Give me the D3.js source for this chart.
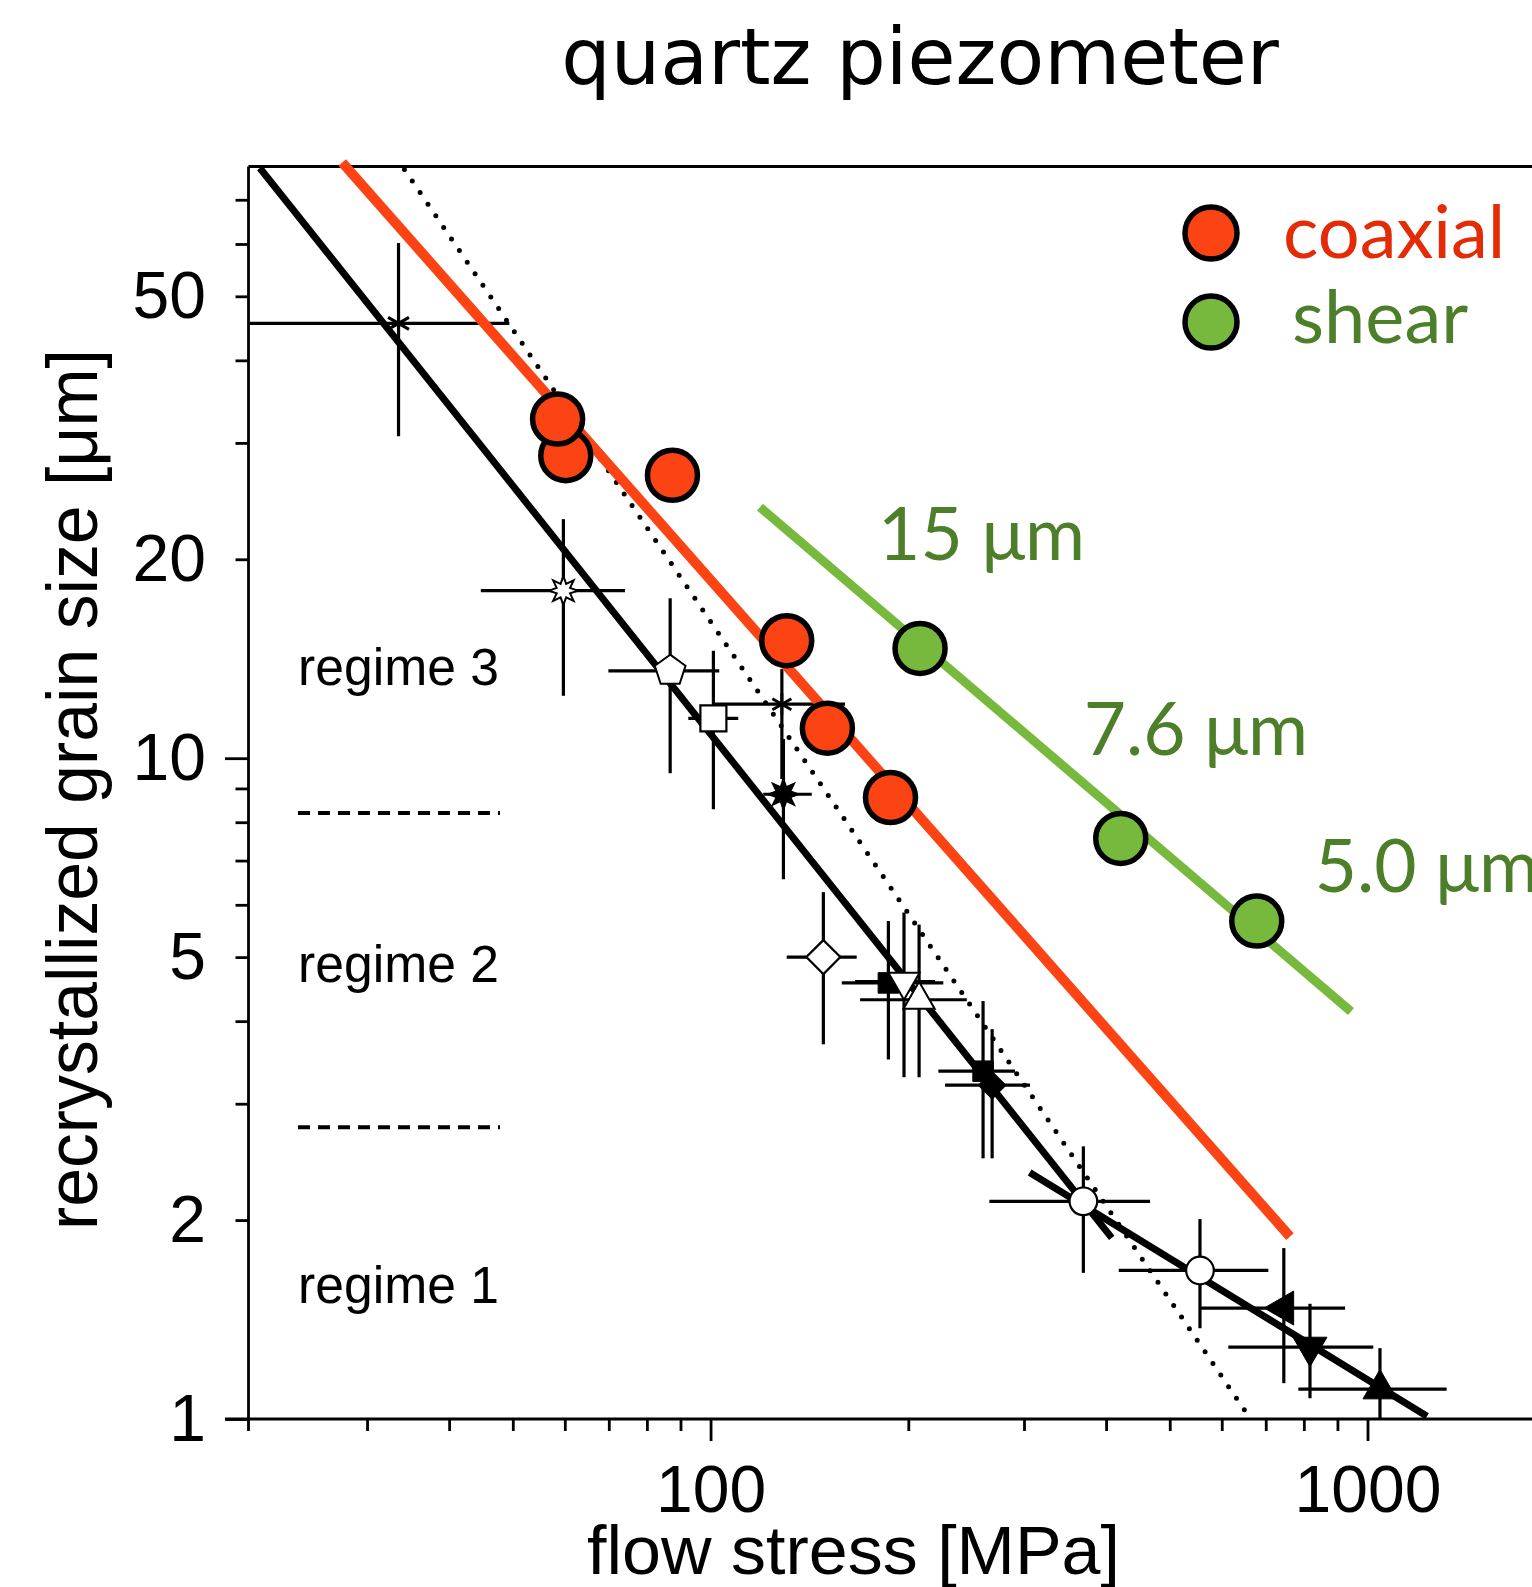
<!DOCTYPE html>
<html>
<head>
<meta charset="utf-8">
<script src="https://cdn.jsdelivr.net/npm/d3@7"></script>
<style>
	body { margin: 0; background: #fff; }
</style>
</head>
<body>
<svg id="chart" width="1532" height="1587"></svg>
<script>

// axis limits and ticks
var stressMin = 19.8;
var sizeMax = 78.6;
var xMajorTicks = [100, 1000];
var xMinorTicks = [30, 40, 50, 60, 70, 80, 90, 200, 300, 400, 500, 600, 700, 800, 900];
var yMajorTicks = [1, 10];
var yMinorTicks = [2, 3, 4, 5, 6, 7, 8, 9, 20, 30, 40, 50, 60, 70];
var yLabelledMinor = [2, 5, 20, 50];

// coaxial experiments (second one first, it sits under the first)
var coaxialStress = [60.2, 58.5, 87.5, 130.6, 150.6, 187.9];
var coaxialSize = [28.7, 32.6, 26.8, 15.06, 11.1, 8.72];

// shear experiments
var shearStress = [208.4, 421.1, 678.3];
var shearSize = [14.66, 7.56, 5.67];
var shearLabels = ["15 μm", "7.6 μm", "5.0 μm"];

// calibration data with error bars
var calStress = [33.5, 59.7, 86.8, 101.0, 128.4, 129.1, 148.5, 186.5, 197.0, 207.7, 259.9, 268.3, 369.4, 555.9, 745.8, 817.4, 1044.7];
var calSize = [45.5, 17.93, 13.56, 11.49, 12.07, 8.82, 5.0, 4.57, 4.59, 4.31, 3.36, 3.20, 2.135, 1.678, 1.472, 1.285, 1.11];
var calStressLo = [17, 44.7, 69.9, 92.5, 101.0, 120.3, 130.6, 158.4, 166, 168.9, 222.2, 227.5, 265.7, 418.2, 554.6, 614.0, 784.8];
var calStressHi = [49.4, 74.1, 103.1, 110.2, 160.2, 142.6, 166.9, 226.1, 219.6, 245.5, 290.7, 306.4, 466.7, 706.4, 924.4, 1020.5, 1319.8];
var calSizeLo = [30.7, 12.43, 9.49, 8.37, 9.3, 6.56, 3.69, 3.50, 3.29, 3.29, 2.48, 2.48, 1.664, 1.372, 1.133, 1.075, 0.9];
var calSizeHi = [60.2, 23.0, 17.46, 14.54, 13.64, 10.69, 6.27, 5.67, 5.84, 5.60, 4.29, 3.89, 2.586, 2.007, 1.814, 1.494, 1.28];
var calMarkers = ["asterisk", "openStar", "pentagon", "openSquare", "smallAsterisk", "blackStar", "openDiamond",
	"blackSquare", "openTriDown", "openTri", "blackSquare", "blackDiamond", "openCircle", "openCircle",
	"blackTriLeft", "blackTriDown", "blackTri"];

// fit lines (end points)
var regime23Stress = [20.6, 408];
var regime23Size = [78.2, 1.88];
var regime1Stress = [306, 1232];
var regime1Size = [2.36, 1.01];
var dottedStress = [34.2, 657];
var dottedSize = [77.8, 1.015];
var coaxialFitStress = [27.5, 762];
var coaxialFitSize = [79.7, 1.888];
var shearFitStress = [118.9, 943.8];
var shearFitSize = [23.98, 4.137];

// regime boundaries and labels
var regimeBounds = [8.26, 2.765];
var regimeBoundStress = [23.55, 47.8];
var regimeNames = ["regime 3", "regime 2", "regime 1"];
var regimeLabelSize = [12.92, 4.59, 1.497];

var red = "#fb4314";
var green = "#77b93d";
var darkGreen = "#4d7e2a";
var arial = "'Liberation Sans', Arial, sans-serif";
var gill = "Lato, 'Open Sans', sans-serif";

var svg = d3.select("#chart");
var width = +svg.attr("width");

var x = d3.scaleLog().domain([stressMin, 1000]).range([248.5, 1367.5]);
var y = d3.scaleLog().domain([1, sizeMax]).range([1419, 166.5]);

svg.append("clipPath").attr("id", "plot")
	.append("rect")
	.attr("x", x(stressMin)).attr("y", y(sizeMax))
	.attr("width", width - x(stressMin)).attr("height", y(1) - y(sizeMax));

// custom symbols
var star8 = {
	draw: function(context, size){
		var r = Math.sqrt(size / Math.PI);
		for (var i = 0; i < 16; i++){
			var a = i * Math.PI / 8 - Math.PI / 2;
			var rr = (i % 2) ? r * 0.5 : r;
			if (i == 0) context.moveTo(rr * Math.cos(a), rr * Math.sin(a));
			else context.lineTo(rr * Math.cos(a), rr * Math.sin(a));
		}
		context.closePath();
	}
};
var pentagon = {
	draw: function(context, size){
		var r = Math.sqrt(size / Math.PI);
		for (var i = 0; i < 5; i++){
			var a = i * 2 * Math.PI / 5 - Math.PI / 2;
			if (i == 0) context.moveTo(r * Math.cos(a), r * Math.sin(a));
			else context.lineTo(r * Math.cos(a), r * Math.sin(a));
		}
		context.closePath();
	}
};

var markerStyles = {
	asterisk: {type: d3.symbolAsterisk, size: 410, fill: "none", rotate: 0, sw: 3},
	openStar: {type: star8, size: 660, fill: "#fff", rotate: 0, sw: 2},
	pentagon: {type: pentagon, size: 820, fill: "#fff", rotate: 0, sw: 2},
	openSquare: {type: d3.symbolSquare, size: 676, fill: "#fff", rotate: 0, sw: 2.2},
	smallAsterisk: {type: d3.symbolAsterisk, size: 340, fill: "none", rotate: 0, sw: 2.8},
	blackStar: {type: star8, size: 760, fill: "#000", rotate: 0, sw: 1.5},
	openDiamond: {type: d3.symbolSquare, size: 580, fill: "#fff", rotate: 45, sw: 2.2},
	blackSquare: {type: d3.symbolSquare, size: 420, fill: "#000", rotate: 0, sw: 1},
	openTriDown: {type: d3.symbolTriangle, size: 420, fill: "#fff", rotate: 180, sw: 2},
	openTri: {type: d3.symbolTriangle, size: 420, fill: "#fff", rotate: 0, sw: 2},
	blackDiamond: {type: d3.symbolSquare, size: 380, fill: "#000", rotate: 45, sw: 1},
	openCircle: {type: d3.symbolCircle, size: 600, fill: "#fff", rotate: 0, sw: 2.2},
	blackTriLeft: {type: d3.symbolTriangle, size: 500, fill: "#000", rotate: -90, sw: 1},
	blackTriDown: {type: d3.symbolTriangle, size: 500, fill: "#000", rotate: 180, sw: 1},
	blackTri: {type: d3.symbolTriangle, size: 500, fill: "#000", rotate: 0, sw: 1}
};

// axes
function styleAxis(g){
	g.select(".domain").remove();
	g.selectAll(".tick line").attr("stroke", "#000").attr("stroke-width", 2.8);
	g.attr("font-size", 66).attr("font-family", arial);
	g.selectAll(".tick text").attr("fill", "#000");
}
var noLabel = function(){ return ""; };

svg.append("g").attr("transform", "translate(0," + y(1) + ")")
	.call(d3.axisBottom(x).tickValues(xMinorTicks).tickSize(12).tickFormat(noLabel))
	.call(styleAxis);
svg.append("g").attr("transform", "translate(0," + y(1) + ")")
	.call(d3.axisBottom(x).tickValues(xMajorTicks).tickSize(22).tickPadding(24).tickFormat(d3.format("d")))
	.call(styleAxis);
svg.append("g").attr("transform", "translate(" + x(stressMin) + ",0)")
	.call(d3.axisLeft(y).tickValues(yMinorTicks).tickSize(13).tickPadding(29.5)
		.tickFormat(function(d){ return yLabelledMinor.indexOf(d) >= 0 ? d : ""; }))
	.call(styleAxis);
svg.append("g").attr("transform", "translate(" + x(stressMin) + ",0)")
	.call(d3.axisLeft(y).tickValues(yMajorTicks).tickSize(23.5).tickPadding(19).tickFormat(d3.format("d")))
	.call(styleAxis);

// frame
var frame = svg.append("g").attr("stroke", "#000").attr("stroke-width", 2.8);
frame.append("line").attr("x1", x(stressMin)).attr("x2", width).attr("y1", y(sizeMax)).attr("y2", y(sizeMax));
frame.append("line").attr("x1", x(stressMin)).attr("x2", x(stressMin)).attr("y1", y(sizeMax)).attr("y2", y(1) + 12);
frame.append("line").attr("x1", x(stressMin) - 23.5).attr("x2", width).attr("y1", y(1)).attr("y2", y(1));

// regime boundaries
svg.selectAll(".bound").data(regimeBounds).enter()
	.append("line")
	.attr("x1", x(regimeBoundStress[0])).attr("x2", x(regimeBoundStress[1]))
	.attr("y1", function(d){ return y(d); }).attr("y2", function(d){ return y(d); })
	.attr("stroke", "#000").attr("stroke-width", 4)
	.attr("stroke-dasharray", "12,8");

svg.selectAll(".regime").data(regimeNames).enter()
	.append("text")
	.attr("x", x(regimeBoundStress[0]))
	.attr("y", function(d, i){ return y(regimeLabelSize[i]); })
	.attr("font-family", arial).attr("font-size", 51)
	.attr("textLength", 201).attr("lengthAdjust", "spacingAndGlyphs")
	.text(function(d){ return d; });

// error bars
var bars = svg.append("g").attr("clip-path", "url(#plot)").attr("stroke", "#000").attr("stroke-width", 3.2);
calStress.forEach(function(s, i){
	bars.append("line")
		.attr("x1", x(calStressLo[i])).attr("x2", x(calStressHi[i]))
		.attr("y1", y(calSize[i])).attr("y2", y(calSize[i]));
	bars.append("line")
		.attr("x1", x(s)).attr("x2", x(s))
		.attr("y1", y(calSizeLo[i])).attr("y2", y(calSizeHi[i]));
});

// fit lines
var line = d3.line()
	.x(function(d){ return x(d[0]); })
	.y(function(d){ return y(d[1]); });
function pairs(a, b){
	return a.map(function(v, i){ return [v, b[i]]; });
}

svg.append("path").datum(pairs(regime23Stress, regime23Size))
	.attr("d", line).attr("fill", "none").attr("stroke", "#000").attr("stroke-width", 7);
svg.append("path").datum(pairs(regime1Stress, regime1Size))
	.attr("d", line).attr("fill", "none").attr("stroke", "#000").attr("stroke-width", 7);
svg.append("path").datum(pairs(dottedStress, dottedSize))
	.attr("d", line).attr("fill", "none").attr("stroke", "#000").attr("stroke-width", 5)
	.attr("stroke-linecap", "round").attr("stroke-dasharray", "0,14");

// calibration markers
svg.selectAll(".cal").data(calStress).enter()
	.append("path")
	.attr("d", function(d, i){
		var m = markerStyles[calMarkers[i]];
		return d3.symbol().type(m.type).size(m.size)();
	})
	.attr("transform", function(d, i){
		return "translate(" + x(d) + "," + y(calSize[i]) + ") rotate(" + markerStyles[calMarkers[i]].rotate + ")";
	})
	.attr("fill", function(d, i){ return markerStyles[calMarkers[i]].fill; })
	.attr("stroke", "#000")
	.attr("stroke-width", function(d, i){ return markerStyles[calMarkers[i]].sw; });

// coaxial and shear fits
svg.append("path").datum(pairs(coaxialFitStress, coaxialFitSize))
	.attr("d", line).attr("fill", "none").attr("stroke", red).attr("stroke-width", 10);
svg.append("path").datum(pairs(shearFitStress, shearFitSize))
	.attr("d", line).attr("fill", "none").attr("stroke", green).attr("stroke-width", 9);

svg.selectAll(".coaxial").data(coaxialStress).enter()
	.append("circle")
	.attr("cx", function(d){ return x(d); })
	.attr("cy", function(d, i){ return y(coaxialSize[i]); })
	.attr("r", 25).attr("fill", red).attr("stroke", "#000").attr("stroke-width", 5.5);

svg.selectAll(".shear").data(shearStress).enter()
	.append("circle")
	.attr("cx", function(d){ return x(d); })
	.attr("cy", function(d, i){ return y(shearSize[i]); })
	.attr("r", 25).attr("fill", green).attr("stroke", "#000").attr("stroke-width", 5.5);

// grain size labels for shear points
var labelOffset = [[-42, -88], [-37, -83], [58, -29]];
svg.selectAll(".shearLabel").data(shearLabels).enter()
	.append("text")
	.attr("x", function(d, i){ return x(shearStress[i]) + labelOffset[i][0]; })
	.attr("y", function(d, i){ return y(shearSize[i]) + labelOffset[i][1]; })
	.attr("font-family", gill).attr("font-size", 73)
	.attr("fill", darkGreen)
	.text(function(d){ return d; });

// legend
var legend = svg.append("g");
legend.append("circle").attr("cx", 1211).attr("cy", 233).attr("r", 26)
	.attr("fill", red).attr("stroke", "#000").attr("stroke-width", 5.5);
legend.append("circle").attr("cx", 1211).attr("cy", 322).attr("r", 26)
	.attr("fill", green).attr("stroke", "#000").attr("stroke-width", 5.5);
legend.append("text").attr("x", 1283).attr("y", 258)
	.attr("font-family", gill).attr("font-size", 74).attr("fill", "#e32b06").text("coaxial");
legend.append("text").attr("x", 1292).attr("y", 343)
	.attr("font-family", gill).attr("font-size", 74).attr("fill", darkGreen).text("shear");

// titles
svg.append("text").attr("x", 920).attr("y", 84)
	.attr("text-anchor", "middle")
	.attr("font-family", "'DejaVu Sans', Verdana, sans-serif").attr("font-size", 78)
	.text("quartz piezometer");

svg.append("text").attr("x", 853.5).attr("y", 1574)
	.attr("text-anchor", "middle")
	.attr("font-family", arial).attr("font-size", 68)
	.attr("textLength", 533).attr("lengthAdjust", "spacingAndGlyphs")
	.text("flow stress [MPa]");

svg.append("text")
	.attr("transform", "translate(97,789.5) rotate(-90)")
	.attr("text-anchor", "middle")
	.attr("font-family", arial).attr("font-size", 72)
	.attr("textLength", 881).attr("lengthAdjust", "spacingAndGlyphs")
	.text("recrystallized grain size [μm]");

</script>
</body>
</html>
